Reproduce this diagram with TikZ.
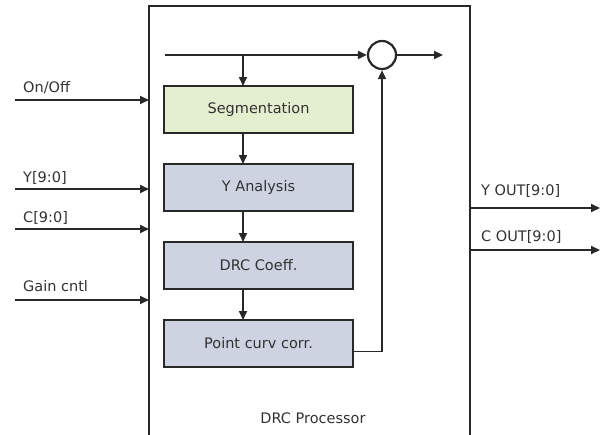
\documentclass[tikz,border=0pt]{standalone}
\usepackage{fontspec}
\setmainfont{DejaVu Sans}
\usetikzlibrary{positioning,arrows.meta,calc}
\definecolor{drcgreen}{RGB}{228,239,208}
\definecolor{drcblue}{RGB}{206,211,226}
\definecolor{drcline}{RGB}{40,40,40}
\definecolor{drctext}{RGB}{50,50,50}

\begin{document}
\begin{tikzpicture}[x=1pt,y=-1pt,
        font=\fontsize{14.5}{17}\selectfont,text=drctext,
        blk/.style={draw=drcline,line width=2.4pt,minimum width=189pt,
                    minimum height=47pt,inner sep=0pt,outer sep=0pt},
        sig/.style={drcline,line width=1.8pt,-{Triangle[length=9pt,width=8pt]}},
        lbl/.style={anchor=west,inner sep=0pt}]
    \clip (0,0) rectangle (609,434);
    % Processor frame
    \node[draw=drcline,line width=2.2pt,minimum width=321pt,minimum height=440pt,
          inner sep=0pt,outer sep=0pt] (proc) at (309.5,226) {};
    \node (title) at (313,418) {DRC Processor};
    % Chain of blocks
    \node[blk,fill=drcgreen] (seg) at (258.5,109.5) {Segmentation};
    \node[blk,fill=drcblue,below=31pt of seg] (yana) {Y Analysis};
    \node[blk,fill=drcblue,below=31pt of yana] (coef) {DRC Coeff.};
    \node[blk,fill=drcblue,below=31pt of coef] (pcc) {Point curv corr.};
    \node[circle,draw=drcline,line width=2.2pt,minimum size=28pt,
          inner sep=0pt,fill=white] (sum) at (382,55) {};
    % Top path
    \coordinate (src) at (165,55);
    \coordinate (tap) at (243,55);
    \coordinate (dst) at (443,55);
    \draw[sig] (src) -- (sum);
    \draw[sig] (sum) -- (dst);
    \draw[sig] (tap) -- (tap |- seg.north);
    \draw[sig] (tap |- seg.south) -- (tap |- yana.north);
    \draw[sig] (tap |- yana.south) -- (tap |- coef.north);
    \draw[sig] (tap |- coef.south) -- (tap |- pcc.north);
    \draw[sig] ([yshift=-8pt]pcc.east) -| (sum);
    % Inputs
    \foreach \nm/\yy/\dy/\txt in {onoff/100/12/{On/Off},ydat/189/11/{Y[9:0]},
                                   cdat/229/11/{C[9:0]},gain/300/14/{Gain cntl}}{
        \coordinate (\nm) at (15,\yy);
        \draw[sig] (\nm) -- (\nm -| proc.west);
        \node[lbl] (\nm-lbl) at ([xshift=8pt,yshift=\dy pt]\nm) {\txt};
    }
    % Outputs
    \foreach \nm/\yy/\dy/\txt in {yout/208/17/{Y OUT[9:0]},cout/250/13/{C OUT[9:0]}}{
        \coordinate (\nm) at (600,\yy);
        \draw[sig] (\nm -| proc.east) -- (\nm);
        \node[lbl] (\nm-lbl) at ([xshift=11pt,yshift=\dy pt]\nm -| proc.east) {\txt};
    }
\end{tikzpicture}
\end{document}
